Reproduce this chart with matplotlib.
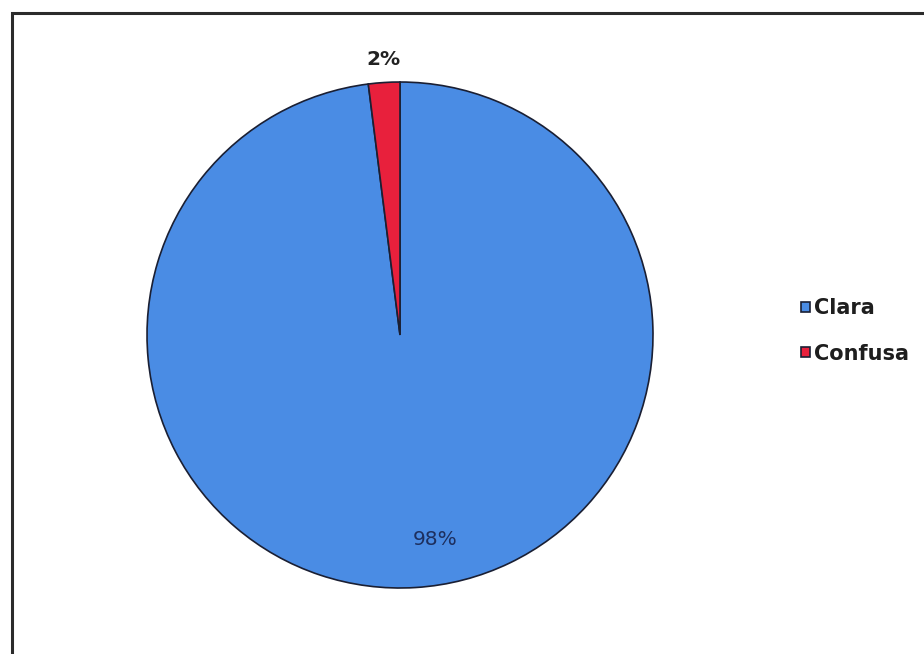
import matplotlib
matplotlib.use("Agg")
import matplotlib.pyplot as plt
from matplotlib.patches import Rectangle

categories = ["Clara", "Confusa"]
values = [98, 2]
colors = ["#4A8CE4", "#E8203C"]

plt.rcParams['font.family'] = ['DejaVu Sans']

fig = plt.figure(figsize=(9.24, 6.54), dpi=100)
fig.patch.set_facecolor("white")

# outer frame (extends beyond right/bottom edges as in the reference)
fig.patches.append(Rectangle((11.5/924, -0.2), 1.2, 1.2 - 13/654,
                             transform=fig.transFigure, fill=False,
                             edgecolor="#2b2b2b", linewidth=2.2))

ax = fig.add_axes([0.1591, 0.1009, 0.5476, 0.7737])
wedges, texts, autotexts = ax.pie(
    values, colors=colors, startangle=90, counterclock=False,
    autopct='%1.0f%%', radius=1.0,
    wedgeprops=dict(edgecolor="#1a1f33", linewidth=1.2),
)
ax.set_xlim(-1.0, 1.0)
ax.set_ylim(-1.0, 1.0)
ax.set_aspect('equal')
ax.axis('off')

autotexts[0].set_position((0.138, -0.81))
autotexts[0].set_color("#1d2f5e")
autotexts[0].set_fontsize(14.5)
autotexts[1].set_position((-0.067, 1.09))
autotexts[1].set_color("#222222")
autotexts[1].set_fontweight('bold')
autotexts[1].set_fontsize(14.5)
for t in autotexts:
    t.set_clip_on(False)

leg = fig.legend(wedges, categories, loc='center left',
                 bbox_to_anchor=(791/924, 1 - 331/654), frameon=False,
                 prop=dict(weight='bold', size=15),
                 handlelength=0.42, handleheight=0.42, handletextpad=0.2,
                 labelspacing=1.2, borderpad=0)
for t in leg.get_texts():
    t.set_color("#1e1e1e")

fig.savefig("out.png", dpi=100)
